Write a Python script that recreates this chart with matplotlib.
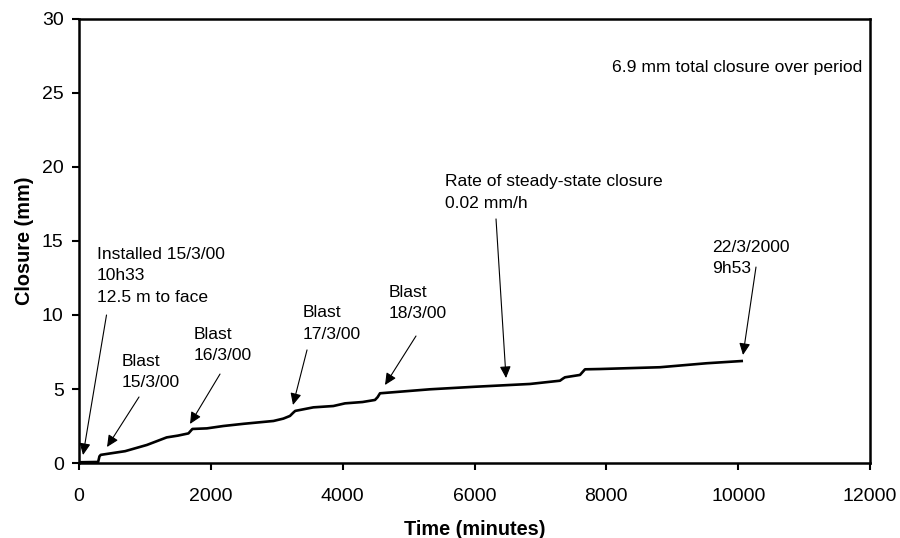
import matplotlib
matplotlib.use('Agg')
import matplotlib.pyplot as plt

plt.rcParams['font.family'] = ['Liberation Sans', 'DejaVu Sans']

# closure curve
time_min = [0, 290, 310, 330, 700, 1030, 1330, 1500, 1660, 1700, 1720, 1940, 2190, 2500,
            2950, 3100, 3200, 3250, 3280, 3555, 3858, 4035, 4300, 4490, 4530, 4566, 5324,
            6000, 6841, 7296, 7340, 7372, 7600, 7640, 7676, 7900, 8813, 9522, 10053]
closure = [0.05, 0.07, 0.45, 0.55, 0.8, 1.22, 1.73, 1.85, 2.0, 2.2, 2.3, 2.34, 2.5, 2.65,
           2.84, 3.0, 3.18, 3.4, 3.52, 3.76, 3.85, 4.03, 4.12, 4.26, 4.45, 4.71, 4.98,
           5.15, 5.34, 5.56, 5.7, 5.79, 5.95, 6.15, 6.33, 6.35, 6.47, 6.74, 6.89]

# annotations: text, text pos, arrow tail, arrow tip
notes = ['Installed 15/3/00\n10h33\n12.5 m to face',
         'Blast\n15/3/00',
         'Blast\n16/3/00',
         'Blast\n17/3/00',
         'Blast\n18/3/00',
         'Rate of steady-state closure\n0.02 mm/h',
         '22/3/2000\n9h53']
note_xy = [(273, 12.64), (645, 6.15), (1745, 7.97), (3398, 9.43), (4703, 10.81),
           (5552, 18.28), (9603, 13.85)]
tail_xy = [(417, 10.0), (910, 4.46), (2139, 6.01), (3459, 7.64), (5112, 8.58),
           (6326, 16.49), (10270, 13.24)]
tip_xy = [(61, 0.54), (425, 1.08), (1684, 2.64), (3246, 3.92), (4642, 5.27),
          (6478, 5.74), (10073, 7.30)]

fig = plt.figure(figsize=(9, 5.38), dpi=100)
ax1 = fig.add_axes([0.0878, 0.1394, 0.8789, 0.8253])
ax1.plot(time_min, closure, color='black', lw=1.9, solid_joinstyle='round')

for txt, pos, tl, tp in zip(notes, note_xy, tail_xy, tip_xy):
    ax1.text(pos[0], pos[1], txt, ha='left', va='center', fontsize=12.6, linespacing=1.55)
    ax1.annotate('', xy=tp, xytext=tl,
                 arrowprops=dict(arrowstyle='-|>,head_length=0.7,head_width=0.33',
                                 color='black', lw=0.8, shrinkA=0, shrinkB=0))

ax1.text(8086, 26.69, '6.9 mm total closure over period', ha='left', va='center', fontsize=12.6)

ax1.set_xlim(0, 12000)
ax1.set_ylim(0, 30)
ax1.set_xticks(range(0, 12001, 2000))
ax1.set_yticks(range(0, 31, 5))
ax1.tick_params(direction='out', length=5, width=1.5, labelsize=14)
ax1.tick_params(axis='x', pad=13)
ax1.tick_params(axis='y', pad=6)
for sp in ax1.spines.values():
    sp.set_linewidth(1.8)
ax1.set_xlabel('Time (minutes)', fontsize=14.3, fontweight='bold', labelpad=11)
ax1.set_ylabel('Closure (mm)', fontsize=14.3, fontweight='bold', labelpad=6)
plt.savefig('out.png')
plt.close()
